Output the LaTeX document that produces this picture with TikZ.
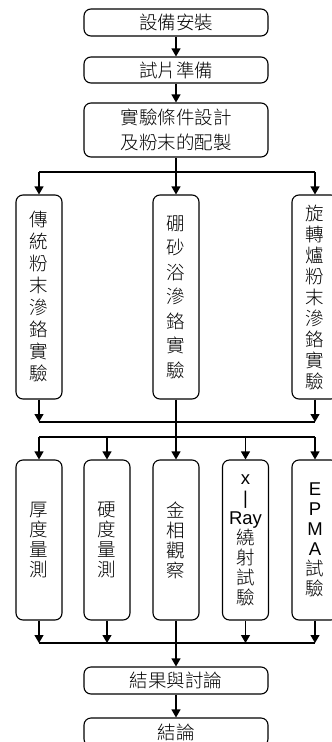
\documentclass[tikz,border=0pt]{standalone}
\usepackage{fontspec}
\IfFontExistsTF{Noto Sans CJK TC Light}{\setmainfont{Noto Sans CJK TC Light}}{\setmainfont{Noto Sans CJK TC}}
\newfontfamily\lat{Liberation Sans}
\usetikzlibrary{arrows.meta}
\begin{document}
\begin{tikzpicture}[x=1pt,y=-1pt,
  box/.style={draw, line width=1.1pt, rounded corners=7pt, inner sep=0pt, align=center,
    font=\fontsize{18.5}{25}\selectfont},
  wide/.style={box, minimum width=184pt},
  tall/.style={box, minimum width=46pt, minimum height=204pt},
  mid/.style={box, minimum width=46pt, minimum height=160pt, font=\fontsize{18.5}{20}\selectfont},
  arr/.style={line width=1.1pt, -{Triangle[length=8pt,width=9pt]}},
  ln/.style={line width=1.1pt}]
\useasboundingbox (0,0) rectangle (332,742);

\node[wide, minimum height=27pt] (b1) at (176,22.5) {設備安裝};
\node[wide, minimum height=26pt] (b2) at (176,70) {試片準備};
\node[wide, minimum height=54pt] (b3) at (176,130) {實驗條件設計\\及粉末的配製};

\node[tall, font=\fontsize{18.5}{22}\selectfont] (t1) at (39,297) {傳\\統\\粉\\末\\滲\\鉻\\實\\驗};
\node[tall, font=\fontsize{18.5}{24.5}\selectfont] (t2) at (176,297) {硼\\砂\\浴\\滲\\鉻\\實\\驗};
\node[tall, font=\fontsize{18.5}{21}\selectfont] (t3) at (315,297) {旋\\轉\\爐\\粉\\末\\滲\\鉻\\實\\驗};

\node[mid] (m1) at (39,540) {厚\\度\\量\\測};
\node[mid] (m2) at (107,540) {硬\\度\\量\\測};
\node[mid] (m3) at (176,540) {金\\相\\觀\\察};
\node[mid] (m4) at (245.5,540) {{\lat x}\\{\lat |}\\{\lat Ray}\\繞\\射\\試\\驗};
\node[mid] (m5) at (315,540) {{\lat E}\\{\lat P}\\{\lat M}\\{\lat A}\\試\\驗};

\node[wide, minimum height=27pt] (r1) at (176,680.5) {結果與討論};
\node[wide, minimum height=28pt] (r2) at (176,732) {結論};

\coordinate (j1l) at (39,172);
\coordinate (j1) at (176,172);
\coordinate (j1r) at (315,172);
\coordinate (j2l) at (39,422);
\coordinate (j2r) at (315,422);
\coordinate (j3l) at (39,437);
\coordinate (j3b) at (107,437);
\coordinate (j3d) at (245.5,437);
\coordinate (j3r) at (315,437);
\coordinate (j4l) at (39,643);
\coordinate (j4b) at (107,643);
\coordinate (j4d) at (245.5,643);
\coordinate (j4r) at (315,643);

\draw[arr] (b1.south) -- (b2.north);
\draw[arr] (b2.south) -- (b3.north);
\draw[ln] (b3.south) -- (j1);
\draw[ln] (j1l) -- (j1r);
\draw[arr] (j1l) -- (t1.north);
\draw[arr] (j1) -- (t2.north);
\draw[arr] (j1r) -- (t3.north);

\draw[arr] (t1.south) -- (j2l);
\draw[arr] (t3.south) -- (j2r);
\draw[ln] (j2l) -- (j2r);
\draw[arr] (t2.south) -- (m3.north);

\draw[ln] (j3l) -- (j3r);
\draw[arr] (j3l) -- (m1.north);
\draw[arr] (j3b) -- (m2.north);
\draw[arr] (j3d) -- (m4.north);
\draw[arr] (j3r) -- (m5.north);

\draw[arr] (m1.south) -- (j4l);
\draw[arr] (m2.south) -- (j4b);
\draw[arr] (m4.south) -- (j4d);
\draw[arr] (m5.south) -- (j4r);
\draw[ln] (j4l) -- (j4r);
\draw[arr] (m3.south) -- (r1.north);
\draw[arr] (r1.south) -- (r2.north);
\end{tikzpicture}
\end{document}
